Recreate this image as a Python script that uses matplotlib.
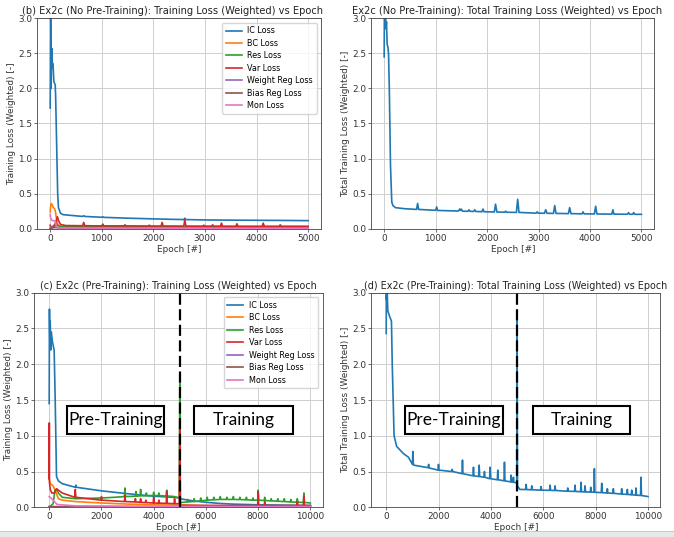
import matplotlib
matplotlib.use("Agg")
import matplotlib.pyplot as plt
from matplotlib.patches import Rectangle

# ---------------- data: (b) no pre-training, component losses ----------------
B_IC_X = [0, 8, 13, 19, 26, 32, 45, 55, 71, 97, 105, 145, 160, 200, 250, 400,
          630, 650, 670, 1000, 1020, 1040, 1500, 2000, 2590, 2610, 2630,
          3000, 3500, 4000, 4500, 5000]
B_IC_Y = [1.72, 3.2, 2.72, 2.0, 2.5, 2.57, 2.3, 2.35, 2.1, 2.05, 1.9, 0.5, 0.3, 0.22, 0.2, 0.19,
          0.175, 0.185, 0.175, 0.163, 0.17, 0.162, 0.15, 0.14, 0.13, 0.15, 0.13,
          0.125, 0.122, 0.12, 0.118, 0.115]

B_BC_X = [0, 10, 20, 40, 60, 80, 100, 130, 160, 300, 1000, 3000, 5000]
B_BC_Y = [0.24, 0.33, 0.36, 0.34, 0.3, 0.29, 0.25, 0.1, 0.04, 0.025, 0.02, 0.018, 0.015]

B_RES_X = [0, 30, 90, 110, 140, 200, 1000, 3000, 5000]
B_RES_Y = [0.0, 0.02, 0.06, 0.08, 0.05, 0.03, 0.03, 0.028, 0.025]

B_VAR_X = [0, 20, 80, 120, 140, 160, 200, 300,
           630, 650, 670,
           1000, 1020, 1040,
           1430, 1450, 1470,
           1900, 1920, 1940,
           2150, 2170, 2190,
           2590, 2610, 2630,
           2960, 2980, 3000,
           3130, 3150, 3170,
           3300, 3320, 3340,
           3600, 3620, 3640,
           4110, 4130, 4150,
           4440, 4460, 4480,
           5000]
B_VAR_Y = [0.05, 0.02, 0.03, 0.12, 0.17, 0.12, 0.06, 0.045,
           0.042, 0.09, 0.042,
           0.04, 0.065, 0.04,
           0.04, 0.055, 0.04,
           0.038, 0.05, 0.038,
           0.038, 0.09, 0.038,
           0.037, 0.13, 0.037,
           0.036, 0.05, 0.036,
           0.036, 0.055, 0.036,
           0.036, 0.08, 0.036,
           0.035, 0.07, 0.035,
           0.035, 0.08, 0.035,
           0.035, 0.055, 0.035,
           0.035]

B_WREG_X = [0, 100, 200, 5000]
B_WREG_Y = [0.02, 0.015, 0.01, 0.008]
B_BREG_X = [0, 80, 110, 140, 200, 5000]
B_BREG_Y = [0.0, 0.02, 0.07, 0.02, 0.005, 0.004]
B_MON_X = [0, 10, 30, 90, 120, 160, 5000]
B_MON_Y = [0.2, 0.15, 0.12, 0.11, 0.04, 0.01, 0.005]

# ---------------- data: (b) no pre-training, total loss ----------------
B_TOT_X = [0, 5, 15, 25, 35, 45, 58, 71, 85, 100, 123, 148, 170, 220, 400,
           630, 650, 670,
           1000, 1020, 1040,
           1440, 1468, 1480, 1500, 1520,
           1630, 1650, 1670,
           1740, 1760, 1780,
           1900, 1921, 1940,
           2140, 2165, 2190,
           2340, 2361, 2380,
           2570, 2595, 2620,
           2955, 2975, 2995,
           3115, 3140, 3165,
           3290, 3315, 3340,
           3580, 3605, 3630,
           3845, 3865, 3885,
           4085, 4110, 4135,
           4425, 4445, 4465,
           4730, 4750, 4770,
           4830, 4850, 4870,
           5000]
B_TOT_Y = [2.45, 3.2, 2.9, 3.2, 2.85, 2.95, 2.62, 2.6, 2.5, 2.0, 0.9, 0.38, 0.33, 0.3, 0.285,
           0.275, 0.36, 0.275,
           0.262, 0.31, 0.26,
           0.252, 0.28, 0.26, 0.28, 0.25,
           0.248, 0.27, 0.248,
           0.246, 0.27, 0.246,
           0.242, 0.28, 0.242,
           0.238, 0.35, 0.238,
           0.235, 0.25, 0.235,
           0.232, 0.42, 0.232,
           0.222, 0.24, 0.222,
           0.22, 0.27, 0.22,
           0.218, 0.33, 0.218,
           0.215, 0.30, 0.215,
           0.212, 0.24, 0.212,
           0.21, 0.32, 0.21,
           0.208, 0.27, 0.208,
           0.206, 0.23, 0.206,
           0.205, 0.23, 0.205,
           0.205]

# ---------------- data: (c) pre-training, component losses ----------------
C_IC_X = [0, 10, 25, 40, 60, 80, 130, 190, 230, 280, 350, 500, 1000, 1020, 1040,
          2000, 3000, 4000, 4500, 4900, 5000, 5500, 6000, 6500, 7000, 8000, 9000, 10000]
C_IC_Y = [1.45, 2.77, 2.3, 2.6, 2.2, 2.45, 2.3, 2.2, 1.5, 0.43, 0.37, 0.33, 0.28, 0.31, 0.28,
          0.23, 0.19, 0.155, 0.145, 0.135, 0.12, 0.09, 0.07, 0.055, 0.045, 0.035, 0.03, 0.025]

C_BC_X = [0, 40, 150, 250, 350, 500, 1000, 2000, 3000, 4000, 5000, 6000, 10000]
C_BC_Y = [0.4, 0.33, 0.3, 0.22, 0.12, 0.1, 0.08, 0.06, 0.045, 0.035, 0.03, 0.02, 0.015]

C_RES_X = [0, 150, 220, 280, 350, 500, 1000, 2000, 2500,
           2880, 2900, 2920,
           3300, 3320, 3340,
           3480, 3500, 3520,
           3700, 3720, 3740,
           3980, 4000, 4020,
           4180, 4200, 4220,
           4480, 4500, 4520,
           4800, 4980, 5000, 5020,
           5100,
           5280, 5300, 5320,
           5530, 5550, 5570,
           5780, 5800, 5820,
           6030, 6050, 6070,
           6280, 6300, 6320,
           6530, 6550, 6570,
           6780, 6800, 6820,
           7030, 7050, 7070,
           7280, 7300, 7320,
           7530, 7550, 7570,
           7780, 7800, 7820,
           7980, 8000, 8020,
           8230, 8250, 8270,
           8480, 8500, 8520,
           8730, 8750, 8770,
           8980, 9000, 9020,
           9230, 9250, 9270,
           9480, 9500, 9520,
           9730, 9750, 9770,
           10000]
C_RES_Y = [0.0, 0.05, 0.24, 0.25, 0.2, 0.14, 0.12, 0.13, 0.14,
           0.15, 0.27, 0.15,
           0.155, 0.22, 0.155,
           0.16, 0.25, 0.16,
           0.162, 0.2, 0.162,
           0.165, 0.21, 0.165,
           0.163, 0.2, 0.163,
           0.158, 0.24, 0.158,
           0.15, 0.13, 1.8, 0.06,
           0.07,
           0.075, 0.11, 0.075,
           0.08, 0.12, 0.08,
           0.09, 0.13, 0.09,
           0.1, 0.14, 0.1,
           0.105, 0.14, 0.105,
           0.11, 0.15, 0.11,
           0.11, 0.14, 0.11,
           0.11, 0.15, 0.11,
           0.108, 0.14, 0.108,
           0.105, 0.14, 0.105,
           0.1, 0.13, 0.1,
           0.1, 0.24, 0.1,
           0.095, 0.14, 0.095,
           0.09, 0.12, 0.09,
           0.085, 0.12, 0.085,
           0.08, 0.12, 0.08,
           0.075, 0.11, 0.075,
           0.07, 0.12, 0.07,
           0.068, 0.2, 0.068,
           0.06]

C_VAR_X = [0, 5, 10, 40, 100, 200, 280, 350, 500,
           980, 1000, 1020,
           1980, 2000, 2020,
           2880, 2900, 2920,
           3280, 3300, 3320,
           3480, 3500, 3520,
           3680, 3700, 3720,
           3980, 4000, 4020,
           4180, 4200, 4220,
           4480, 4500, 4520,
           4780, 4800, 4820,
           4980, 5000, 5020,
           5500, 7000,
           7980, 8000, 8020,
           8230, 8250, 8270,
           9480, 9500, 9520,
           9730, 9750, 9770,
           10000]
C_VAR_Y = [0.4, 1.18, 0.35, 0.25, 0.2, 0.2, 0.26, 0.24, 0.2,
           0.14, 0.25, 0.14,
           0.1, 0.15, 0.1,
           0.08, 0.17, 0.08,
           0.075, 0.12, 0.075,
           0.07, 0.12, 0.07,
           0.066, 0.1, 0.066,
           0.06, 0.14, 0.06,
           0.058, 0.1, 0.058,
           0.055, 0.22, 0.055,
           0.05, 0.12, 0.05,
           0.05, 1.22, 0.03,
           0.028, 0.025,
           0.025, 0.22, 0.025,
           0.025, 0.08, 0.025,
           0.025, 0.08, 0.025,
           0.025, 0.15, 0.025,
           0.025]

C_WREG_X = [0, 200, 10000]
C_WREG_Y = [0.015, 0.01, 0.008]
C_BREG_X = [0, 10000]
C_BREG_Y = [0.005, 0.004]
C_MON_X = [0, 100, 300, 1000, 5000, 10000]
C_MON_Y = [0.15, 0.12, 0.04, 0.02, 0.012, 0.01]

# ---------------- data: (d) pre-training, total loss ----------------
D_TOT_X = [0, 5, 15, 30, 60, 100, 150, 200, 230, 300, 400, 660, 850,
           1000, 1018, 1040,
           1500, 1600, 1620, 1640,
           1980, 1997, 2015,
           2500, 2520, 2540,
           2895, 2913, 2930,
           3315, 3333, 3350,
           3530, 3550, 3570,
           3735, 3753, 3770,
           3950, 3969, 3990,
           4245, 4262, 4280,
           4500, 4517, 4535,
           4755, 4771, 4790,
           4845, 4860, 4875,
           4985, 5000, 5015, 5100,
           5325, 5344, 5365,
           5540, 5560, 5580,
           5895, 5916, 5935,
           6240, 6260, 6280,
           6430, 6450, 6470,
           6915, 6934, 6955,
           7195, 7213, 7230,
           7425, 7443, 7460,
           7575, 7595, 7615,
           7795, 7812, 7830,
           7935, 7952, 7970,
           8215, 8232, 8250,
           8430, 8448, 8465,
           8660, 8677, 8695,
           8975, 8995, 9015,
           9195, 9211, 9230,
           9360, 9377, 9395,
           9525, 9542, 9560,
           9715, 9733, 9750,
           10000]
D_TOT_Y = [2.43, 3.2, 2.9, 3.1, 2.75, 2.7, 2.65, 2.6, 2.0, 1.0, 0.85, 0.75, 0.7,
           0.6, 0.78, 0.59,
           0.56, 0.555, 0.6, 0.55,
           0.52, 0.6, 0.52,
           0.5, 0.53, 0.5,
           0.47, 0.66, 0.47,
           0.44, 0.56, 0.44,
           0.43, 0.59, 0.43,
           0.42, 0.5, 0.42,
           0.4, 0.56, 0.4,
           0.385, 0.52, 0.385,
           0.37, 0.63, 0.37,
           0.355, 0.45, 0.355,
           0.35, 0.42, 0.35,
           0.34, 2.75, 0.3, 0.25,
           0.248, 0.32, 0.248,
           0.245, 0.3, 0.245,
           0.24, 0.29, 0.24,
           0.237, 0.31, 0.237,
           0.235, 0.3, 0.235,
           0.225, 0.27, 0.225,
           0.222, 0.31, 0.222,
           0.218, 0.35, 0.218,
           0.215, 0.3, 0.215,
           0.213, 0.28, 0.213,
           0.21, 0.54, 0.21,
           0.205, 0.335, 0.205,
           0.2, 0.26, 0.2,
           0.195, 0.26, 0.195,
           0.185, 0.26, 0.185,
           0.18, 0.25, 0.18,
           0.175, 0.24, 0.175,
           0.17, 0.27, 0.17,
           0.165, 0.42, 0.165,
           0.15]

LABELS = ["IC Loss", "BC Loss", "Res Loss", "Var Loss", "Weight Reg Loss", "Bias Reg Loss", "Mon Loss"]
COLORS = ["#1f77b4", "#ff7f0e", "#2ca02c", "#d62728", "#9467bd", "#8c564b", "#e377c2"]
SWITCH_EPOCH = 5000

TITLES = ["(b) Ex2c (No Pre-Training): Training Loss (Weighted) vs Epoch",
          "Ex2c (No Pre-Training): Total Training Loss (Weighted) vs Epoch",
          "(c) Ex2c (Pre-Training): Training Loss (Weighted) vs Epoch",
          "(d) Ex2c (Pre-Training): Total Training Loss (Weighted) vs Epoch"]
YLABEL_COMP = "Training Loss (Weighted) [-]"
YLABEL_TOT = "Total Training Loss (Weighted) [-]"
XLABEL = "Epoch [#]"

plt.rcParams["font.family"] = ["DejaVu Sans"]
W, H = 674, 537
fig = plt.figure(figsize=(W / 100, H / 100), dpi=100)

def px_axes(l, t, r, b):
    return fig.add_axes([l / W, (H - b) / H, (r - l) / W, (b - t) / H])

TICK_FS = 6.4
LABEL_FS = 6.4
LEG_FS = 5.8

def style(ax, title, ylabel, xticks, xlim, title_x=0.5, title_fs=7.1):
    ax.set_ylim(0, 3.0)
    ax.set_xlim(*xlim)
    ax.set_xticks(xticks)
    ax.set_yticks([0, 0.5, 1.0, 1.5, 2.0, 2.5, 3.0])
    ax.set_yticklabels(["0.0", "0.5", "1.0", "1.5", "2.0", "2.5", "3.0"])
    ax.grid(True, color="#cfcfcf", lw=0.7)
    ax.set_axisbelow(True)
    ax.tick_params(labelsize=TICK_FS, length=2, width=0.5, pad=1.5, colors="#333333")
    for s in ax.spines.values():
        s.set_linewidth(0.6)
        s.set_color("#444444")
    ax.set_title(title, fontsize=title_fs, pad=3, x=title_x, color="#222222")
    ax.set_xlabel(XLABEL, fontsize=LABEL_FS, labelpad=1.5, color="#333333")
    ax.set_ylabel(ylabel, fontsize=LABEL_FS, labelpad=2, color="#333333")

LW = 1.2

def add_legend(ax):
    ax.legend(loc="upper right", fontsize=LEG_FS, handlelength=2.0, borderpad=0.45,
              labelspacing=0.43, handletextpad=0.7, borderaxespad=0.55, framealpha=0.8)

# (b) components
ax1 = px_axes(37.3, 18.3, 321, 228.7)
for xs, ys, lab, col in zip([B_IC_X, B_BC_X, B_RES_X, B_VAR_X, B_WREG_X, B_BREG_X, B_MON_X],
                            [B_IC_Y, B_BC_Y, B_RES_Y, B_VAR_Y, B_WREG_Y, B_BREG_Y, B_MON_Y],
                            LABELS, COLORS):
    ax1.plot(xs, ys, color=col, lw=LW, label=lab)
style(ax1, TITLES[0], YLABEL_COMP, [0, 1000, 2000, 3000, 4000, 5000], (-250, 5250), title_x=0.475)
add_legend(ax1)

# (b) total
ax2 = px_axes(371.3, 18.3, 654.3, 228.7)
ax2.plot(B_TOT_X, B_TOT_Y, color=COLORS[0], lw=LW)
style(ax2, TITLES[1], YLABEL_TOT, [0, 1000, 2000, 3000, 4000, 5000], (-250, 5250), title_x=0.478)

# (c) components
ax3 = px_axes(34.3, 292.7, 322.7, 507.3)
for xs, ys, lab, col in zip([C_IC_X, C_BC_X, C_RES_X, C_VAR_X, C_WREG_X, C_BREG_X, C_MON_X],
                            [C_IC_Y, C_BC_Y, C_RES_Y, C_VAR_Y, C_WREG_Y, C_BREG_Y, C_MON_Y],
                            LABELS, COLORS):
    ax3.plot(xs, ys, color=col, lw=LW, label=lab)
style(ax3, TITLES[2], YLABEL_COMP, [0, 2000, 4000, 6000, 8000, 10000], (-570, 10470), title_fs=6.9)
add_legend(ax3)

# (d) total
ax4 = px_axes(371.3, 292.7, 660.3, 507.3)
ax4.plot(D_TOT_X, D_TOT_Y, color=COLORS[0], lw=LW)
style(ax4, TITLES[3], YLABEL_TOT, [0, 2000, 4000, 6000, 8000, 10000], (-570, 10470), title_fs=6.9)

# dashed switch lines
for ax in (ax3, ax4):
    ax.axvline(SWITCH_EPOCH, color="black", lw=1.6, dashes=(5, 2), zorder=5)

# annotation boxes (figure pixel coordinates)
def box(l, t, r, b, text):
    fig.add_artist(Rectangle((l / W, (H - b) / H), (r - l) / W, (b - t) / H,
                             transform=fig.transFigure, facecolor="white",
                             edgecolor="black", lw=1.5, zorder=10))
    fig.text((l + r) / 2 / W, (H - (t + b) / 2) / H, text, ha="center", va="center",
             fontsize=12.5, family=["Lato", "DejaVu Sans"], zorder=11)

box(67, 406, 164, 434, "Pre-Training")
box(194, 406, 293, 434, "Training")
box(404.7, 406, 502.7, 434, "Pre-Training")
box(532.7, 406, 630.3, 434, "Training")

# grey strip at bottom
fig.add_artist(Rectangle((0, 0), 1, 5 / H, transform=fig.transFigure,
                         facecolor="#e8e8e8", edgecolor="none", zorder=0))
fig.add_artist(Rectangle((0, 5 / H), 1, 0.8 / H, transform=fig.transFigure,
                         facecolor="#c8c8c8", edgecolor="none", zorder=0))

fig.savefig("out.png", dpi=100)
